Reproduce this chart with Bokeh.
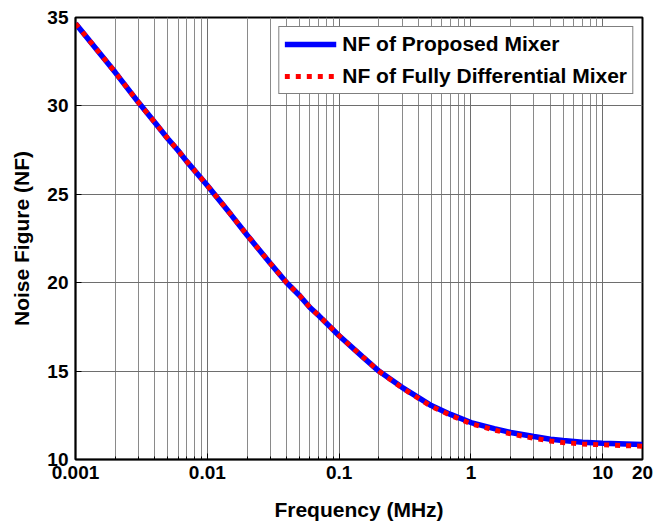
from bokeh.plotting import figure
from bokeh.models import FixedTicker, Legend, LegendItem, ColumnDataSource
from bokeh.embed import file_html
from bokeh.resources import INLINE

# ---- data ----
freq_mhz = [0.001, 0.0015, 0.002, 0.003, 0.004, 0.005, 0.006, 0.007, 0.01, 0.015,
            0.02, 0.03, 0.04, 0.05, 0.06, 0.07, 0.1, 0.15, 0.2, 0.3, 0.4, 0.5, 0.7,
            1, 1.5, 2, 3, 4, 5, 7, 10, 15, 20]
nf_proposed = [34.66, 33.05, 31.9, 30.2, 29.06, 28.16, 27.48, 26.85, 25.5, 23.88,
               22.7, 21.1, 20.0, 19.28, 18.6, 18.14, 17.0, 15.82, 15.0, 14.08, 13.5, 13.05, 12.55,
               12.09, 11.75, 11.53, 11.3, 11.15, 11.07, 10.98, 10.92, 10.88, 10.85]
nf_fully_diff = [34.66, 33.05, 31.9, 30.2, 29.06, 28.16, 27.48, 26.85, 25.5, 23.88,
                 22.7, 21.1, 20.0, 19.28, 18.6, 18.14, 17.0, 15.82, 15.0, 14.05, 13.46, 13.0, 12.5,
                 12.02, 11.67, 11.45, 11.2, 11.05, 10.96, 10.88, 10.83, 10.78, 10.75]

x_tick_values = [0.001, 0.01, 0.1, 1, 10, 20]
x_tick_labels = ["0.001", "0.01", "0.1", "1", "10", "20"]
x_minor_values = [m * d for d in [0.001, 0.01, 0.1, 1, 10] for m in range(2, 10) if m * d < 20]
y_tick_values = [10, 15, 20, 25, 30, 35]

series_names = ["NF of Proposed Mixer", "NF of Fully Differential Mixer"]

FONT = "Liberation Sans"

src = ColumnDataSource(dict(f=freq_mhz, a=nf_proposed, b=nf_fully_diff))

p = figure(width=655, height=525, x_axis_type="log",
           x_range=(0.001, 20), y_range=(10, 35),
           output_backend="svg", toolbar_location=None,
           min_border_left=75, min_border_right=13,
           min_border_top=17, min_border_bottom=66,
           background_fill_color="white", border_fill_color="white")

r1 = p.line("f", "a", source=src, line_color="#0000ff", line_width=5.5)
r2 = p.line("f", "b", source=src, line_color="#ff0000", line_width=5, line_dash="5 6")

# axes
p.xaxis.ticker = FixedTicker(ticks=x_tick_values, minor_ticks=x_minor_values)
p.xaxis.major_label_overrides = {v: s for v, s in zip(x_tick_values, x_tick_labels)}
p.yaxis.ticker = FixedTicker(ticks=y_tick_values)

for ax in (p.xaxis[0], p.yaxis[0]):
    ax.major_label_text_font = FONT
    ax.major_label_text_font_style = "bold"
    ax.major_label_text_font_size = "19px"
    ax.major_label_text_color = "black"
    ax.axis_label_text_font = FONT
    ax.axis_label_text_font_style = "bold"
    ax.axis_label_text_font_size = "21px"
    ax.axis_label_text_color = "black"
    ax.axis_line_color = "black"
    ax.axis_line_width = 1.5
    ax.major_tick_line_color = "black"
    ax.major_tick_in = 6
    ax.major_tick_out = 0
    ax.minor_tick_in = 3
    ax.minor_tick_out = 0
    ax.minor_tick_line_color = "black"

p.xaxis.axis_label = "Frequency (MHz)"
p.yaxis.axis_label = "Noise Figure (NF)"
p.xaxis.major_label_standoff = 6
p.yaxis.major_label_standoff = 7
p.xaxis.axis_label_standoff = 16
p.yaxis.axis_label_standoff = 11

p.outline_line_color = "black"
p.outline_line_width = 2

# grid
p.xgrid.grid_line_color = "#6e6e6e"
p.xgrid.grid_line_width = 1
p.xgrid.minor_grid_line_color = "#8a8a8a"
p.xgrid.minor_grid_line_width = 1
p.ygrid.grid_line_color = "#6e6e6e"
p.ygrid.grid_line_width = 1

legend = Legend(items=[LegendItem(label=series_names[0], renderers=[r1]),
                       LegendItem(label=series_names[1], renderers=[r2])],
                location="top_right")
legend.label_text_font = FONT
legend.label_text_font_style = "bold"
legend.label_text_font_size = "21px"
legend.label_text_color = "black"
legend.border_line_color = "black"
legend.border_line_width = 1.5
legend.background_fill_color = "white"
legend.background_fill_alpha = 1
legend.glyph_width = 52
legend.glyph_height = 24
legend.label_height = 24
legend.label_standoff = 6
legend.padding = 5
legend.spacing = 8
legend.margin = 9
p.add_layout(legend)

open("out.html", "w").write(file_html(p, INLINE))
